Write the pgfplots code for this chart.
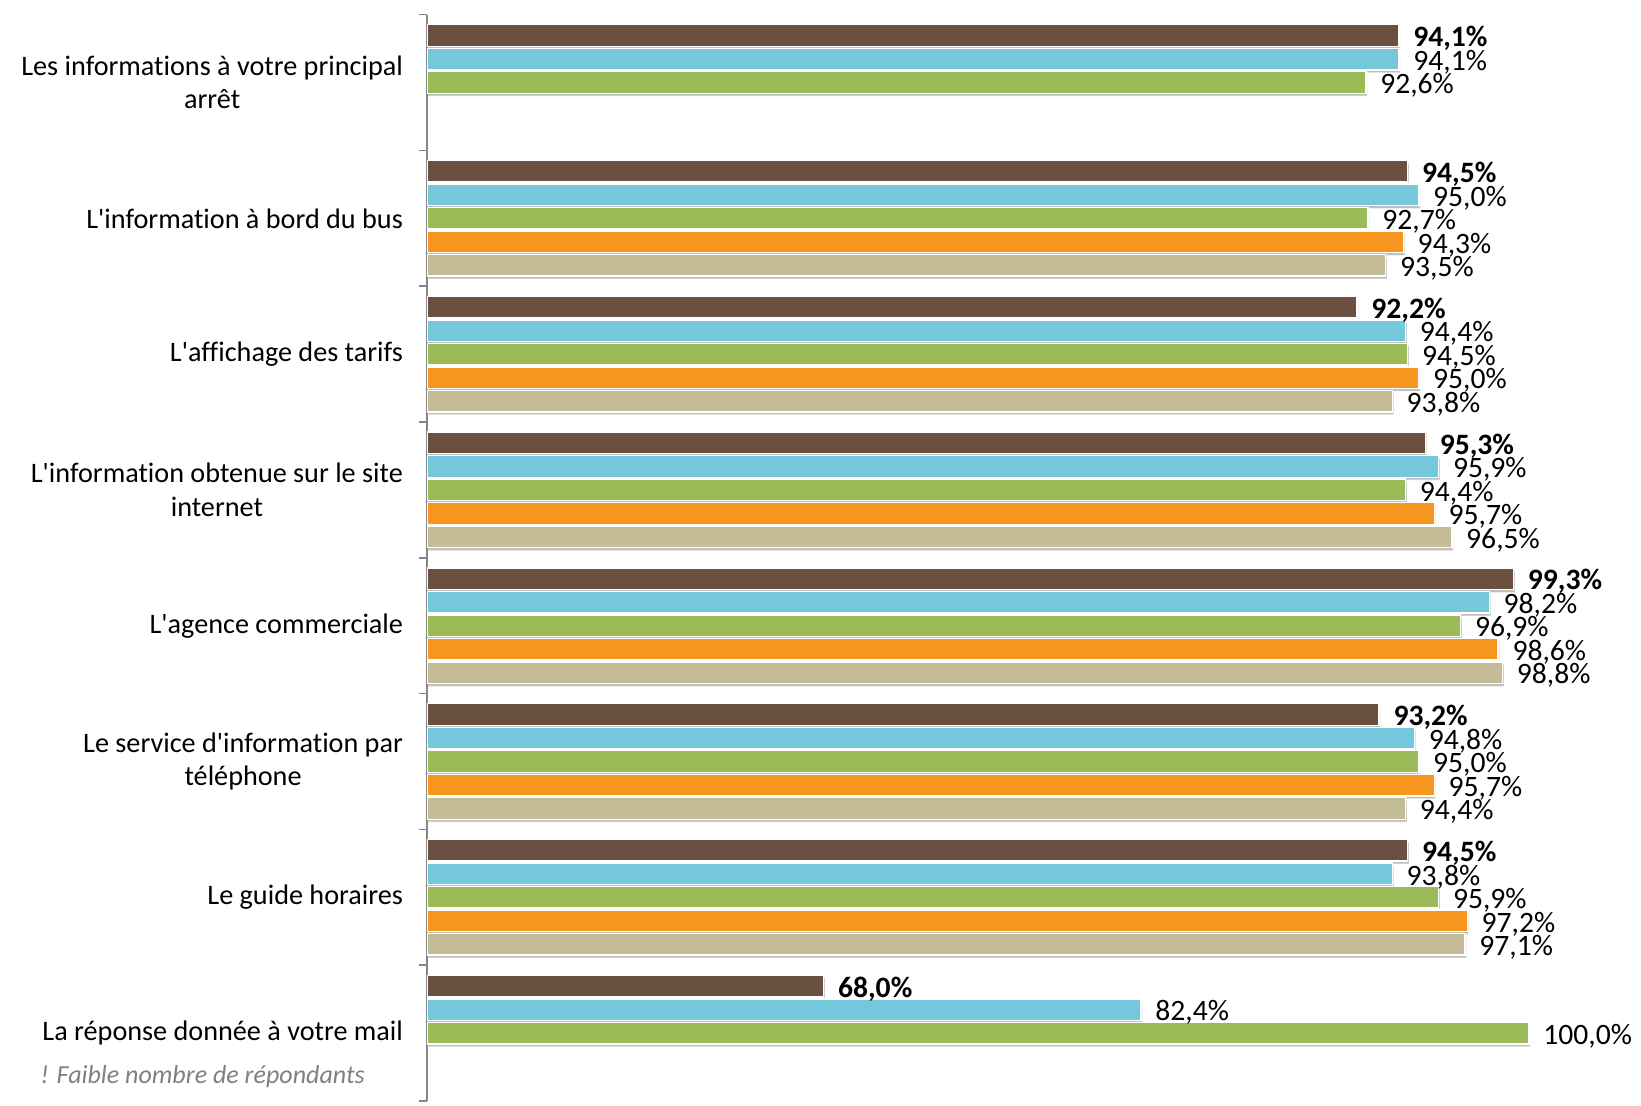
\documentclass[border=0pt]{standalone}
\usepackage{pgfplots}
\pgfplotsset{compat=1.18}
\usepackage{fontspec}
\setmainfont{Carlito}[Ligatures={TeXOff,CommonOff}]
\usetikzlibrary{shadows}

\definecolor{cBrown}{RGB}{105,80,64}
\definecolor{cBlue}{RGB}{117,200,220}
\definecolor{cGreen}{RGB}{155,187,89}
\definecolor{cOrange}{RGB}{247,150,30}
\definecolor{cBeige}{RGB}{196,188,151}
\definecolor{cAxis}{RGB}{134,134,134}
\definecolor{cNote}{RGB}{128,128,128}

\newcommand{\lblfont}{\fontsize{14.1}{16.7}\selectfont}
\newcommand{\valfont}{\fontsize{14.8}{17}\selectfont}

\pgfplotsset{
  barstyle/.style={draw=white, line width=0.7pt,
    drop shadow={shadow xshift=0.6pt, shadow yshift=-1.4pt, fill=black, opacity=0.25}},
}

\begin{document}
\begin{tikzpicture}
\begin{axis}[
  at={(213.5pt,2pt)}, anchor=south west,
  scale only axis, width=606.1pt, height=543.2pt,
  xmin=50, xmax=105, ymin=-0.5, ymax=7.5, y dir=reverse,
  axis x line=none, axis y line*=left,
  xbar, bar width=0.159,
  ytick={0,...,7},
  yticklabels={{Les informations à votre principal\\arrêt},
               {L'information à bord du bus},
               {L'affichage des tarifs},
               {L'information obtenue sur le site\\internet},
               {L'agence commerciale},
               {Le service d'information par\\téléphone},
               {Le guide horaires},
               {La réponse donnée à votre mail}},
  yticklabel style={align=center, font=\lblfont, xshift=-8.5pt},
  major tick length=0pt,
  minor ytick={-0.5,0.5,...,7.5}, minor tick length=4.2pt, tick align=outside,
  y axis line style={cAxis, line width=0.8pt},
  minor tick style={cAxis, line width=0.8pt},
  point meta=x,
  /pgf/number format/assume math mode=true,
  nodes near coords={\pgfmathprintnumber[use comma,fixed,fixed zerofill,precision=1,assume math mode=true]{\pgfplotspointmeta}\%},
  nodes near coords style={font=\valfont, anchor=west, xshift=3.5pt, yshift=-1.5pt, text=black},
  clip=true,
]
% first series, labels in bold
\addplot[barstyle, fill=cBrown, bar shift=-0.346,
  nodes near coords style={font=\valfont\bfseries}] coordinates {
  (94.1,0) (94.5,1) (92.2,2) (95.3,3) (99.3,4) (93.2,5) (94.5,6) (68.0,7)};
\addplot[barstyle, fill=cBlue, bar shift=-0.173] coordinates {
  (94.1,0) (95.0,1) (94.4,2) (95.9,3) (98.2,4) (94.8,5) (93.8,6) (82.4,7)};
\addplot[barstyle, fill=cGreen, bar shift=0] coordinates {
  (92.6,0) (92.7,1) (94.5,2) (94.4,3) (96.9,4) (95.0,5) (95.9,6) (100.0,7)};
\addplot[barstyle, fill=cOrange, bar shift=0.173] coordinates {
  (94.3,1) (95.0,2) (95.7,3) (98.6,4) (95.7,5) (97.2,6)};
\addplot[barstyle, fill=cBeige, bar shift=0.346] coordinates {
  (93.5,1) (93.8,2) (96.5,3) (98.8,4) (94.4,5) (97.1,6)};
\end{axis}
\node[anchor=west, inner sep=0pt, text=cNote, font=\fontsize{13}{15.6}\selectfont\itshape] at (20pt,14pt) {! Faible nombre de répondants};
\pgfresetboundingbox
\path[use as bounding box] (0,0) rectangle (820.5pt,552.5pt);
\end{tikzpicture}
\end{document}
